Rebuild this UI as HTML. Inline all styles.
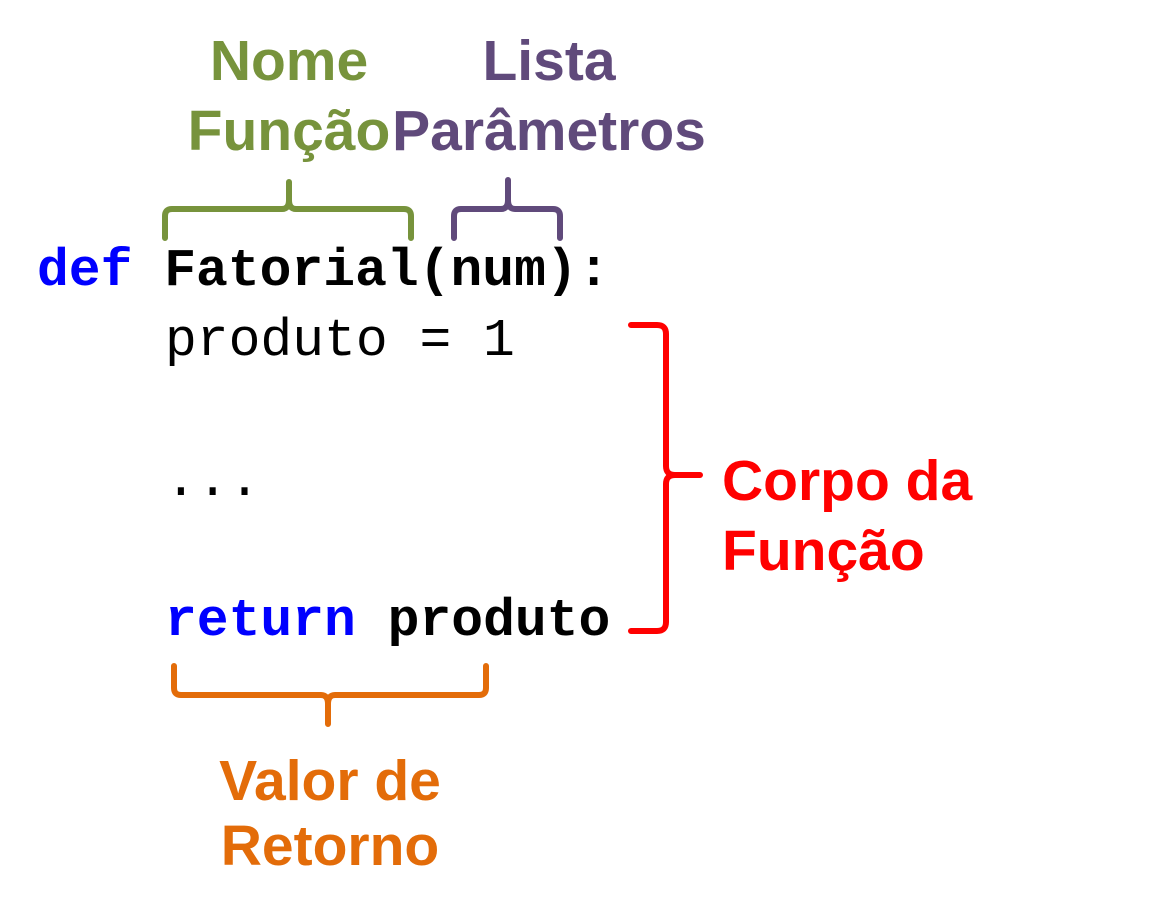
<!DOCTYPE html>
<html><head><meta charset="utf-8"><style>
body{margin:0;width:1170px;height:912px;background:#fff;position:relative;overflow:hidden}
.c{position:absolute;font-family:"Liberation Mono","DejaVu Sans Mono",monospace;font-size:53px;white-space:pre;line-height:1}
.l{position:absolute;font-family:"Liberation Sans",Arial,sans-serif;font-weight:bold;font-size:57px;line-height:1;white-space:nowrap}
.b{font-weight:bold}
.k{color:#0000ff;font-weight:bold}
</style></head><body>
<div class="c" style="left:37px;top:245px"><span class="k">def</span> <span class="b">Fatorial(num):</span></div>
<div class="c" style="left:165px;top:315px">produto = 1</div>
<div class="c" style="left:165px;top:455px">...</div>
<div class="c" style="left:165px;top:595px"><span class="k">return</span> <span class="b">produto</span></div>

<div class="l" style="left:289px;top:33px;transform:translateX(-50%);color:#77933c">Nome</div>
<div class="l" style="left:289px;top:103px;transform:translateX(-50%);color:#77933c">Função</div>
<div class="l" style="left:549px;top:33px;transform:translateX(-50%);color:#604a7b">Lista</div>
<div class="l" style="left:549px;top:103px;transform:translateX(-50%);color:#604a7b">Parâmetros</div>
<div class="l" style="left:722px;top:453px;color:#ff0000">Corpo da</div>
<div class="l" style="left:722px;top:523px;color:#ff0000">Função</div>
<div class="l" style="left:330px;top:753px;transform:translateX(-50%);color:#e36c09">Valor de</div>
<div class="l" style="left:330px;top:818px;transform:translateX(-50%);color:#e36c09">Retorno</div>

<svg width="1170" height="912" style="position:absolute;left:0;top:0" fill="none" stroke-width="6" stroke-linecap="round">
<path d="M165 238 V216 Q165 209 172 209 H282 Q289 209 289 200 V182 M289 200 Q289 209 296 209 H404 Q411 209 411 216 V238" stroke="#77933c"/>
<path d="M454 238 V216 Q454 209 461 209 H501 Q508 209 508 200 V180 M508 200 Q508 209 515 209 H553 Q560 209 560 216 V238" stroke="#604a7b"/>
<path d="M631 325 H657 Q666 325 666 334 V466 Q666 475 675 475 H700 M675 475 Q666 475 666 484 V622 Q666 631 657 631 H631" stroke="#ff0000"/>
<path d="M174 666 V688 Q174 695 181 695 H321 Q328 695 328 704 V724 M328 704 Q328 695 335 695 H479 Q486 695 486 688 V666" stroke="#e36c09"/>
</svg>
</body></html>
